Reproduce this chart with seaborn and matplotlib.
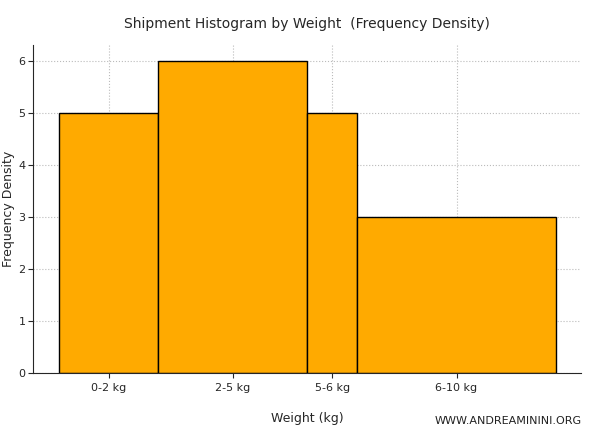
import pandas as pd
import seaborn as sns
import matplotlib.pyplot as plt

labels = ["0-2 kg", "2-5 kg", "5-6 kg", "6-10 kg"]
edges = [0, 2, 5, 6, 10]
density = [5, 6, 5, 3]

centers = [(edges[i] + edges[i + 1]) / 2 for i in range(len(labels))]
df = pd.DataFrame({"center": centers, "density": density})

sns.set_style("ticks")
fig = plt.figure(figsize=(6, 4.37), dpi=100)
ax = fig.add_axes([0.055, 0.146, 0.913, 0.751])

sns.histplot(data=df, x="center", weights="density", bins=edges, stat="count",
             color="#FFAA00", edgecolor="black", linewidth=1, alpha=1, ax=ax)

ax.set_xlim(-0.52, 10.5)
ax.set_ylim(0, 6.31)
ax.set_xticks(centers)
ax.set_xticklabels(labels, fontsize=8)
ax.tick_params(axis="y", labelsize=8, pad=2)
ax.grid(True, linestyle=":", color="#bbbbbb", linewidth=0.8)
ax.set_axisbelow(True)
for s in ["top", "right"]:
    ax.spines[s].set_visible(False)
ax.set_xlabel("Weight (kg)", fontsize=9, labelpad=14)
ax.set_ylabel("Frequency Density", fontsize=9, labelpad=2)
ax.set_title("Shipment Histogram by Weight  (Frequency Density)", fontsize=10, pad=12)
fig.text(0.97, 0.03, "WWW.ANDREAMININI.ORG", ha="right", fontsize=8, color="#222222")

fig.savefig("out.png")
